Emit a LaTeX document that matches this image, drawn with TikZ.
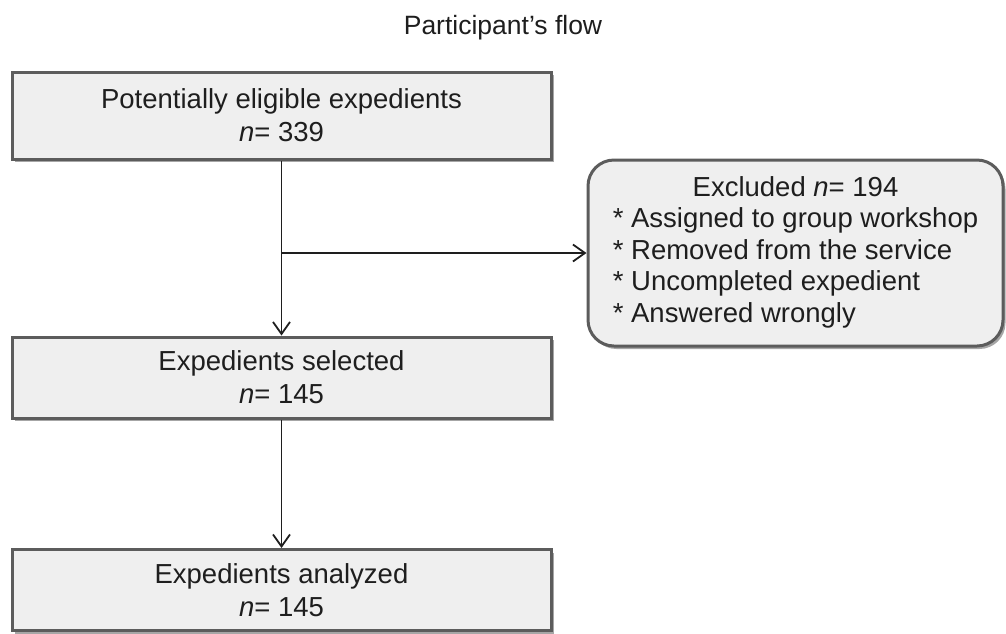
\documentclass[tikz,border=0pt]{standalone}
\usepackage{fontspec}
\setmainfont{Liberation Sans}
\usetikzlibrary{arrows.meta,shadows}

\definecolor{ink}{HTML}{1E1E1E}
\definecolor{boxline}{HTML}{5C5C5C}
\definecolor{boxfill}{HTML}{EFEFEF}

\tikzset{
  flowbox/.style={draw=boxline, line width=3pt, fill=boxfill,
    minimum width=539pt, inner sep=0pt, align=center, text=ink,
    font=\fontsize{27.5}{33}\selectfont,
    drop shadow={shadow xshift=2.5pt, shadow yshift=-3pt, fill=black, opacity=0.35}},
  notebox/.style={flowbox, rounded corners=26pt, minimum width=415pt, minimum height=186pt,
    font=\fontsize{27.5}{31.5}\selectfont},
  conn/.style={draw=ink, line width=1.8pt, -{Straight Barb[length=12pt,width=17pt,line width=1.8pt]}},
  heading/.style={text=ink, font=\fontsize{26.5}{30}\selectfont, inner sep=0pt}
}

\begin{document}
\begin{tikzpicture}[x=1pt,y=-1pt]
  \useasboundingbox (0,0) rectangle (1006,633);

  % title
  \node[heading] (title) at (503,28) {Participant’s flow};

  % main column
  \node[flowbox, minimum height=87pt] (b1) at (281.5,115.5)
    {Potentially eligible expedients\\ \textit{n}= 339};
  \node[flowbox, minimum height=81pt] (b2) at (281.5,377.5)
    {Expedients selected\\ \textit{n}= 145};
  \node[flowbox, minimum height=81pt] (b3) at (281.5,590)
    {Expedients analyzed\\ \textit{n}= 145};

  % exclusions (\relax keeps the asterisks from being read as \\*)
  \node[notebox] (ex) at (795.5,253) {%
    \begin{tabular}{@{}l@{}}
      \multicolumn{1}{@{}c@{}}{Excluded \textit{n}= 194}\\
      \relax* Assigned to group workshop\\
      \relax* Removed from the service\\
      \relax* Uncompleted expedient\\
      \relax* Answered wrongly
    \end{tabular}};

  % connectors
  \coordinate (split) at (b1.south |- ex.west);
  \draw[conn] (b1.south) -- (b2.north);
  \draw[conn] (split) -- (ex.west);
  \draw[conn] (b2.south) -- (b3.north);
\end{tikzpicture}
\end{document}
